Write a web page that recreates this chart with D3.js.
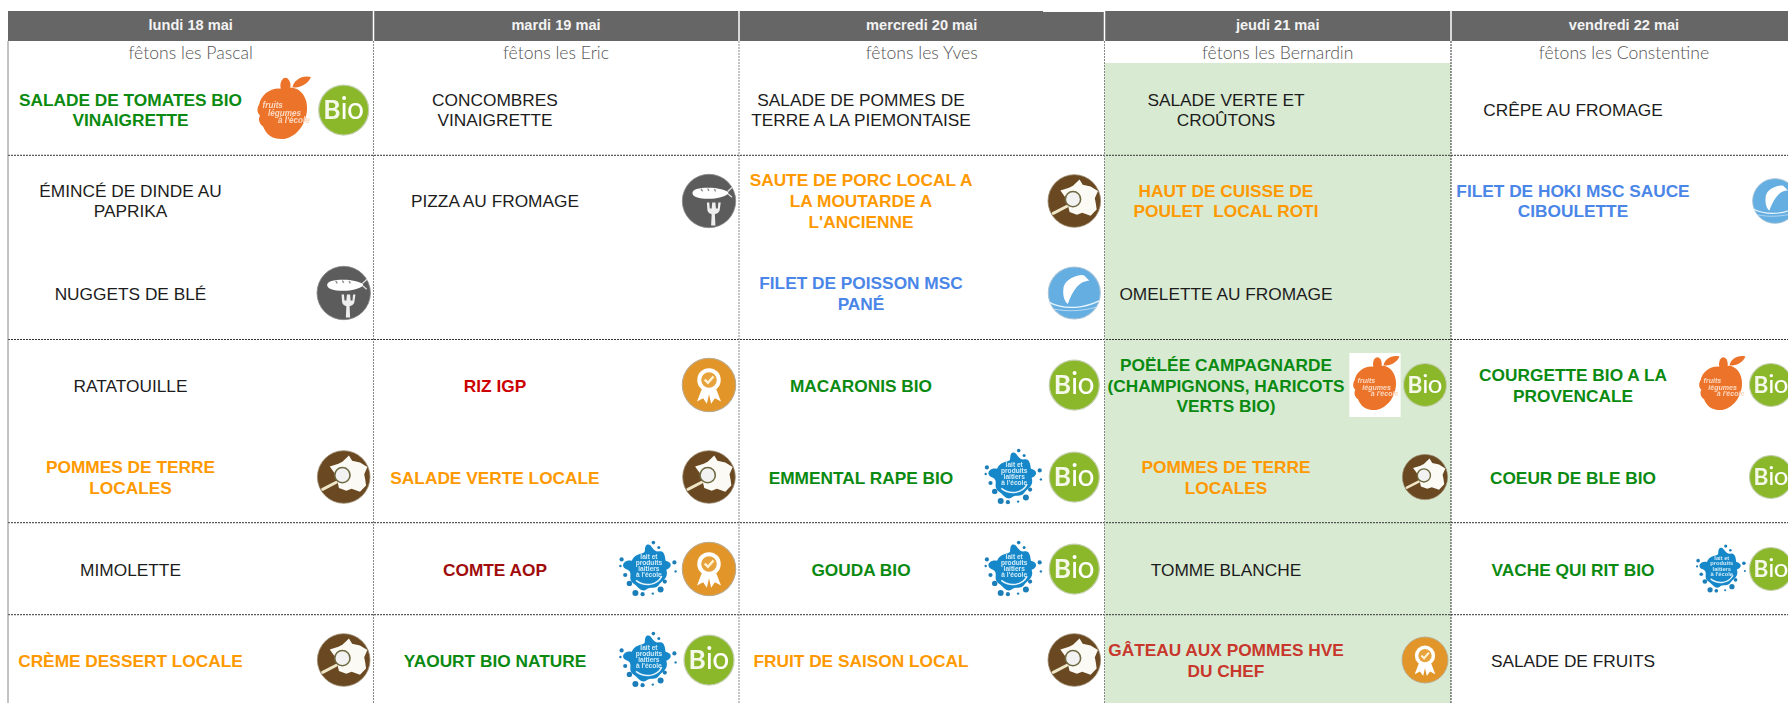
<!DOCTYPE html>
<html lang="fr"><head><meta charset="utf-8">
<script src="https://cdn.jsdelivr.net/npm/d3@7/dist/d3.min.js"></script>
<style>html,body{margin:0;padding:0;background:#fff;overflow:hidden}svg{display:block}text{white-space:pre}</style>
</head><body><svg id="c" width="1788" height="703"></svg>
<script>
const days=["lundi 18 mai","mardi 19 mai","mercredi 20 mai","jeudi 21 mai","vendredi 22 mai"];
const saints=["fêtons les Pascal","fêtons les Eric","fêtons les Yves","fêtons les Bernardin","fêtons les Constentine"];
const courses=["entree","plat","plat2","legume","legume2","fromage","dessert"];
// dish = [label lines, kind, badges (left to right)]
const lundi=[
 [["SALADE DE TOMATES BIO","VINAIGRETTE"],"bio",["fruit","bio"]],
 [["ÉMINCÉ DE DINDE AU","PAPRIKA"],"plain",[]],
 [["NUGGETS DE BLÉ"],"plain",["veg"]],
 [["RATATOUILLE"],"plain",[]],
 [["POMMES DE TERRE","LOCALES"],"local",["local"]],
 [["MIMOLETTE"],"plain",[]],
 [["CRÈME DESSERT LOCALE"],"local",["local"]]];
const mardi=[
 [["CONCOMBRES","VINAIGRETTE"],"plain",[]],
 [["PIZZA AU FROMAGE"],"plain",["veg"]],
 [[],"plain",[]],
 [["RIZ IGP"],"igp",["sign"]],
 [["SALADE VERTE LOCALE"],"local",["local"]],
 [["COMTE AOP"],"aop",["milk","sign"]],
 [["YAOURT BIO NATURE"],"bio",["milk","bio"]]];
const mercredi=[
 [["SALADE DE POMMES DE","TERRE A LA PIEMONTAISE"],"plain",[]],
 [["SAUTE DE PORC LOCAL A","LA MOUTARDE A","L'ANCIENNE"],"local",["local"]],
 [["FILET DE POISSON MSC","PANÉ"],"msc",["fish"]],
 [["MACARONIS BIO"],"bio",["bio"]],
 [["EMMENTAL RAPE BIO"],"bio",["milk","bio"]],
 [["GOUDA BIO"],"bio",["milk","bio"]],
 [["FRUIT DE SAISON LOCAL"],"local",["local"]]];
const jeudi=[
 [["SALADE VERTE ET","CROÛTONS"],"plain",[]],
 [["HAUT DE CUISSE DE","POULET  LOCAL ROTI"],"local",[]],
 [["OMELETTE AU FROMAGE"],"plain",[]],
 [["POËLÉE CAMPAGNARDE","(CHAMPIGNONS, HARICOTS","VERTS BIO)"],"bio",["fruit","bio"]],
 [["POMMES DE TERRE","LOCALES"],"local",["local"]],
 [["TOMME BLANCHE"],"plain",[]],
 [["GÂTEAU AUX POMMES HVE","DU CHEF"],"hve",["sign"]]];
const vendredi=[
 [["CRÊPE AU FROMAGE"],"plain",[]],
 [["FILET DE HOKI MSC SAUCE","CIBOULETTE"],"msc",["fish"]],
 [[],"plain",[]],
 [["COURGETTE BIO A LA","PROVENCALE"],"bio",["fruit","bio"]],
 [["COEUR DE BLE BIO"],"bio",["bio"]],
 [["VACHE QUI RIT BIO"],"bio",["milk","bio"]],
 [["SALADE DE FRUITS"],"plain",[]]];
const menu=[lundi,mardi,mercredi,jeudi,vendredi];

// ---- layout scales
const colEdge=d3.scaleOrdinal(days,[8,373.5,739,1104.5,1451]);
const colEnd=d3.scaleOrdinal(days,[373.5,739,1104.5,1451,1788]);
const colHead=d3.scaleOrdinal(days,[190.7,556,921.7,1277.7,1624]);
const colText=d3.scaleOrdinal(days,[130.5,495,861,1226,1573]);
const colBadge=d3.scaleOrdinal(days,[343.7,709,1074.3,1425,1771]);
const colFish=d3.scaleOrdinal(days,[343.7,709,1074.3,1425,1775]);
const colSmall=d3.scaleOrdinal(days,[1,1,1,0.86,0.86]);
const rowY=d3.scaleOrdinal(courses,[110,201,293.5,385.6,477.6,569.6,660.6]);
const rowIcon=d3.scaleOrdinal(courses,[110,201,293,385,477,569,660]);
const rules=["entree","plat2","legume2","fromage"];
const ruleY=d3.scaleOrdinal(rules,[155.3,339.5,522.7,614.7]);
const kindColor=d3.scaleOrdinal(["plain","bio","local","msc","igp","aop","hve"],
 ["#1c1c1c","#0b8a12","#ff9900","#4a86e8","#cc0000","#a00c0c","#c8372b"]);
const badgeR={bio:25,fruit:37,milk:30,local:26.3,veg:26.7,sign:26.7,fish:26};

const svg=d3.select("#c");
const defs=svg.append("defs");
defs.append("filter").attr("id","soft").attr("x","-10%").attr("y","-10%").attr("width","120%").attr("height","120%")
  .append("feGaussianBlur").attr("stdDeviation",0.5);

// jeudi tint
svg.append("rect").attr("x",colEdge(days[3])).attr("y",63).attr("width",colEnd(days[3])-colEdge(days[3])).attr("height",640).attr("fill","#d9ead3");

// header band
svg.append("rect").attr("x",8).attr("y",11).attr("width",1780).attr("height",30).attr("fill","#666666");
svg.append("rect").attr("x",1043).attr("y",11).attr("width",61).attr("height",1).attr("fill","#fff");

// horizontal rules
svg.selectAll("line.h").data(rules).join("line").attr("class","h")
 .attr("x1",8).attr("x2",1788).attr("y1",d=>ruleY(d)).attr("y2",d=>ruleY(d))
 .attr("stroke","#333").attr("stroke-width",1).attr("stroke-dasharray","2 1");

// verticals
svg.append("line").attr("x1",8).attr("x2",8).attr("y1",41).attr("y2",703).attr("stroke","#888").attr("stroke-width",1);
svg.selectAll("line.v").data(days.slice(1)).join("line").attr("class","v")
 .attr("x1",d=>colEdge(d)).attr("x2",d=>colEdge(d)).attr("y1",41).attr("y2",703)
 .attr("stroke",(d,i)=>i==3?"#333":"#888").attr("stroke-width",1).attr("stroke-dasharray","2 1");
svg.selectAll("line.w").data(days.slice(1)).join("line").attr("class","w")
 .attr("x1",d=>colEdge(d)).attr("x2",d=>colEdge(d)).attr("y1",11).attr("y2",41).attr("stroke","#fff").attr("stroke-width",1.5);

// header text
svg.selectAll("text.day").data(days).join("text").attr("class","day")
 .attr("x",d=>colHead(d)).attr("y",25.3).attr("dy","0.35em").attr("text-anchor","middle")
 .attr("font-family","Liberation Sans").attr("font-weight","bold").attr("font-size",14.6).attr("fill","#f3f3f3").text(d=>d);
svg.selectAll("text.saint").data(saints).join("text").attr("class","saint")
 .attr("x",(d,i)=>colHead(days[i])).attr("y",52.5).attr("dy","0.35em").attr("text-anchor","middle")
 .attr("font-family","Lato").attr("font-weight","300").attr("font-size",17.6).attr("fill","#555").text(d=>d);

// badges
function bio(g){
 g.append("circle").attr("r",1).attr("fill","#8bb82c").attr("stroke","#c4cfae").attr("stroke-width",0.05);
 const t=g.append("text").attr("x",-.02).attr("y",0.36).attr("text-anchor","middle").attr("font-family","Lato").attr("font-size",1.05).attr("fill","#fff");
 t.append("tspan").attr("font-weight","bold").attr("fill","#f4f8e8").text("B");
 t.append("tspan").attr("font-weight","400").attr("font-size",1.2).attr("letter-spacing",-.03).text("io");
}
function sign(g){
 g.append("circle").attr("r",1).attr("fill","#e2962b").attr("stroke","#b9a98c").attr("stroke-width",0.04);
 g.append("path").attr("d","M-.25,.1L-.45,.62L-.22,.5L-.08,.7L0,.35L.08,.7L.22,.5L.45,.62L.25,.1Z").attr("fill","#fff");
 g.append("circle").attr("cy",-.19).attr("r",.44).attr("fill","#fff");
 g.append("circle").attr("cy",-.19).attr("r",.29).attr("fill","#e8a23a");
 g.append("path").attr("d","M-.16,-.2L-.04,-.08L.17,-.32").attr("fill","none").attr("stroke","#fff3d6").attr("stroke-width",.09);
}
function local(g){
 g.append("circle").attr("r",1).attr("fill","#6a4a20").attr("stroke","#9a8a70").attr("stroke-width",0.03);
 g.append("path").attr("d","M-.53,-.4L-.2,-.5L-.05,-.58L.2,-.82L.32,-.62L.62,-.55L.9,-.38L.78,-.1L.82,.1L.85,.32L.62,.56L.3,.45L.1,.52L-.18,.42L-.25,.12L-.3,-.08L-.42,-.25Z").attr("fill","#fbfaf5");
 g.append("path").attr("d","M-.28,.2L-.8,.47").attr("stroke","#efe6c8").attr("stroke-width",.11).attr("stroke-linecap","round");
 g.append("circle").attr("cx",-.05).attr("cy",-.07).attr("r",.29).attr("fill","#f2f2f2").attr("stroke","#6f6a42").attr("stroke-width",.06);
}
function veg(g){
 g.append("circle").attr("r",1).attr("fill","#5c5c5c").attr("stroke","#8a8a8a").attr("stroke-width",0.03);
 g.append("path").attr("d","M-.62,-.3C-.62,-.44 -.4,-.5 0,-.5C.3,-.5 .55,-.44 .72,-.34L.72,-.26C.55,-.16 .3,-.08 0,-.08C-.4,-.08 -.62,-.16 -.62,-.3Z").attr("fill","#fff");
 g.append("path").attr("d","M-.3,-.45L-.24,-.36M-.05,-.47L0,-.38M.2,-.45L.25,-.36").attr("stroke","#8a8a8a").attr("stroke-width",.05);
 g.append("path").attr("d","M.7,-.36L.88,-.52M.72,-.26L.86,-.14").attr("stroke","#ddd").attr("stroke-width",.05);
 g.append("path").attr("d","M-.08,.06L-.06,.34C-.04,.46 .06,.48 .1,.5L.08,.92L.24,.92L.22,.5C.26,.48 .38,.46 .4,.34L.44,.06L.35,.06L.33,.28L.26,.28L.24,.06L.12,.06L.1,.28L.03,.28L.01,.06Z").attr("fill","#eee");
}
function fish(g){
 g.append("circle").attr("r",1).attr("fill","#65aee2").attr("stroke","#a9c4d6").attr("stroke-width",0.04);
 g.append("path").attr("d","M-.42,-.15C-.42,-.3 -.3,-.5 -.06,-.6C.1,-.68 .3,-.72 .38,-.67L.58,-.47C.5,-.47 .4,-.45 .32,-.41C.12,-.3 -.06,-.09 -.25,.42C-.35,.35 -.45,.17 -.42,-.15Z").attr("fill","#fff");
 g.append("path").attr("d","M-.96,.36C-.7,.5 -.4,.58 .06,.55C.4,.52 .7,.42 .96,.3").attr("fill","none").attr("stroke","#eaf5fc").attr("stroke-width",.05);
 g.append("path").attr("d","M-.77,.62C-.3,.72 .3,.7 .83,.55").attr("fill","none").attr("stroke","#cfe7f7").attr("stroke-width",.03);
}
function fruit(g){
 g.append("rect").attr("x",-.8).attr("y",-1).attr("width",1.6).attr("height",2).attr("fill","#fff");
 const a=g.append("g").attr("transform","scale(1.06)");
 a.append("path").attr("d","M.05,-.52C.32,-.68 .64,-.42 .62,-.02C.6,.42 .28,.74 -.02,.74C-.28,.74 -.42,.62 -.5,.42C-.58,.36 -.64,.26 -.58,.14C-.68,.04 -.64,-.08 -.6,-.14C-.55,-.42 -.24,-.62 .05,-.52Z").attr("fill","#ec7329");
 a.append("ellipse").attr("cx",.07).attr("cy",-.62).attr("rx",.13).attr("ry",.2).attr("fill","#ec7329");
 a.append("path").attr("d","M.25,-.58C.28,-.76 .5,-.9 .72,-.84C.66,-.68 .44,-.54 .25,-.58Z").attr("fill","#ec7329");
 const l=[["fruits",-.27,-.05],["légumes",.05,.16],["à l'école",.3,.34]];
 g.selectAll("text").data(l).join("text").attr("x",d=>d[1]).attr("y",d=>d[2]).attr("text-anchor","middle")
  .attr("font-family","Liberation Sans").attr("font-weight","bold").attr("font-style","italic").attr("font-size",.22).attr("fill","#fbd9c2").text(d=>d[0]);
}
function milk(g){
 g.append("rect").attr("x",-1).attr("y",-1).attr("width",2).attr("height",2).attr("fill","#fff");
 g.append("path").attr("transform","scale(1.13)").attr("d","M-.02,-.72C.12,-.76 .12,-.5 .32,-.52C.5,-.56 .5,-.34 .52,-.24C.72,-.2 .72,-.04 .54,.02C.62,.26 .42,.34 .34,.44C.24,.62 .06,.5 -.04,.6C-.2,.72 -.3,.5 -.44,.42C-.62,.28 -.42,.12 -.6,.02C-.86,-.06 -.7,-.3 -.48,-.24C-.38,-.48 -.18,-.42 -.1,-.5C-.08,-.6 -.1,-.68 -.02,-.72Z").attr("fill","#1688c9");
 const drops=[[.18,-.88,.06],[.36,-.72,.05],[.88,-.22,.07],[.92,.08,.04],[-.88,-.32,.07],[-.92,-.1,.04],[-.76,.2,.07],[-.62,.48,.09],[-.42,.8,.1],[-.18,.84,.07],[.42,.68,.1],[.56,.42,.07],[.16,.82,.04]];
 g.selectAll("circle.d").data(drops).join("circle").attr("class","d").attr("cx",d=>d[0]).attr("cy",d=>d[1]).attr("r",d=>d[2]).attr("fill","#1e7eb8");
 g.append("path").attr("d","M.46,.24C.3,.56 -.12,.6 -.4,.38").attr("fill","none").attr("stroke","#e8f4fb").attr("stroke-width",.05);
 const l=[["lait et",-.34],["produits",-.14],["laitiers",.06],["à l'école",.26]];
 g.selectAll("text").data(l).join("text").attr("x",.03).attr("y",d=>d[1]).attr("text-anchor","middle")
  .attr("font-family","Liberation Sans").attr("font-weight","bold").attr("font-size",.22).attr("fill","#d3ecf9").text(d=>d[0]);
}
const glyph={bio,sign,local,veg,fish,fruit,milk};

const cells=g=>g.selectAll("g.cell").data(days.flatMap((d,i)=>courses.map((c,j)=>({day:d,course:c,dish:menu[i][j]})))).join("g").attr("class","cell");
const cell=svg.append("g").call(cells).selectAll("g.cell");
cell.selectAll("text").data(d=>d.dish[0].map((t,k)=>({t,k,n:d.dish[0].length,d}))).join("text")
 .attr("x",e=>colText(e.d.day)).attr("y",e=>rowY(e.d.course)+(e.k-(e.n-1)/2)*20.8).attr("dy","0.35em").attr("text-anchor","middle")
 .attr("font-family","Liberation Sans").attr("font-size",17.3)
 .attr("font-weight",e=>e.d.dish[1]=="plain"?"normal":"bold").attr("fill",e=>kindColor(e.d.dish[1])).text(e=>e.t);
cell.each(function(d){
 const badges=d.dish[2], n=badges.length, sel=d3.select(this), k=colSmall(d.day);
 badges.forEach((b,i)=>{
  const anchor=b=="fish"?colFish(d.day):colBadge(d.day);
  let x=anchor, r=badgeR[b]*k;
  if(n==2&&i==0){ x=anchor-(k<1?50:61); if(b=="fruit"&&k<1) r=32; if(b=="milk"&&k<1) r=26; }
  const g=sel.append("g").attr("filter","url(#soft)").append("g").attr("transform",`translate(${x},${rowIcon(d.course)}) scale(${r})`);
  glyph[b](g);
 });
});
</script></body></html>
